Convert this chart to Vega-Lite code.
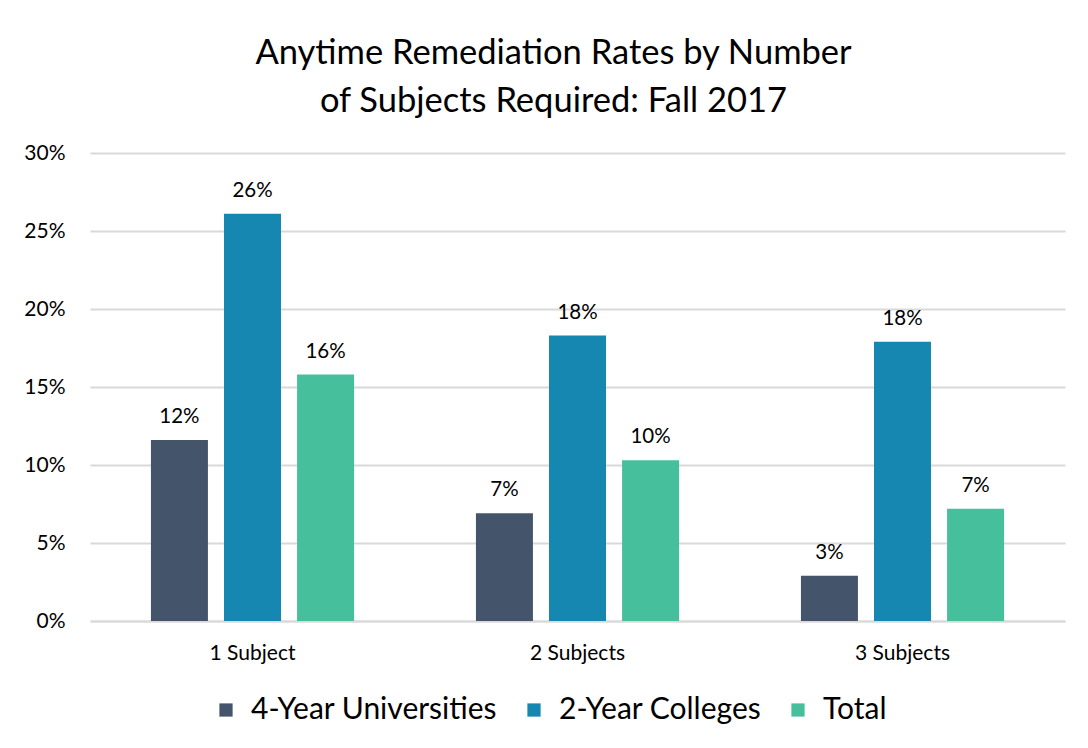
{
  "$schema": "https://vega.github.io/schema/vega-lite/v6.json",
  "width": 975,
  "height": 468,
  "autosize": {"type": "none"},
  "padding": {"left": 90, "top": 153, "right": 23, "bottom": 127},
  "background": "white",
  "title": {
    "text": ["Anytime Remediation Rates by Number", "of Subjects Required: Fall 2017"],
    "fontSize": 34.5,
    "font": "Lato",
    "fontWeight": "normal",
    "color": "#000000",
    "lineHeight": 48,
    "anchor": "middle",
    "dx": -24,
    "offset": 23
  },
  "data": {
    "values": [
      {"subjects": "1 Subject", "type": "4-Year Universities", "rate": 0.116},
      {"subjects": "1 Subject", "type": "2-Year Colleges", "rate": 0.261},
      {"subjects": "1 Subject", "type": "Total", "rate": 0.158},
      {"subjects": "2 Subjects", "type": "4-Year Universities", "rate": 0.069},
      {"subjects": "2 Subjects", "type": "2-Year Colleges", "rate": 0.183},
      {"subjects": "2 Subjects", "type": "Total", "rate": 0.103},
      {"subjects": "3 Subjects", "type": "4-Year Universities", "rate": 0.029},
      {"subjects": "3 Subjects", "type": "2-Year Colleges", "rate": 0.179},
      {"subjects": "3 Subjects", "type": "Total", "rate": 0.072}
    ]
  },
  "encoding": {
    "x": {
      "field": "subjects",
      "type": "nominal",
      "sort": null,
      "scale": {"paddingInner": 0.375, "paddingOuter": 0.1875},
      "axis": {
        "title": null,
        "labelAngle": 0,
        "labelFontSize": 21,
        "labelFont": "Lato",
        "labelColor": "#000000",
        "labelPadding": 21,
        "ticks": false,
        "domainColor": "#d9d9d9",
        "domainWidth": 2
      }
    },
    "xOffset": {
      "field": "type",
      "type": "nominal",
      "sort": ["4-Year Universities", "2-Year Colleges", "Total"],
      "scale": {"paddingInner": 0.22, "paddingOuter": 0}
    },
    "y": {
      "field": "rate",
      "type": "quantitative",
      "scale": {"domain": [0, 0.3]},
      "axis": {
        "title": null,
        "format": ".0%",
        "values": [0, 0.05, 0.1, 0.15, 0.2, 0.25, 0.3],
        "labelFontSize": 21,
        "labelFont": "Lato",
        "labelColor": "#000000",
        "labelPadding": 25,
        "ticks": false,
        "domain": false,
        "gridColor": "#d9d9d9",
        "gridWidth": 2
      }
    }
  },
  "layer": [
    {
      "mark": {"type": "bar"},
      "encoding": {
        "color": {
          "field": "type",
          "type": "nominal",
          "sort": ["4-Year Universities", "2-Year Colleges", "Total"],
          "scale": {
            "domain": ["4-Year Universities", "2-Year Colleges", "Total"],
            "range": ["#44546A", "#1687B1", "#46C09C"]
          },
          "legend": {
            "title": null,
            "orient": "none",
            "legendX": 121,
            "legendY": 542,
            "direction": "horizontal",
            "symbolType": "square",
            "symbolSize": 175,
            "symbolStrokeWidth": 0,
            "labelFontSize": 30,
            "labelFont": "Lato",
            "labelColor": "#000000",
            "labelOffset": 10,
            "columnPadding": 21,
            "labelLimit": 400
          }
        }
      }
    },
    {
      "mark": {"type": "text", "baseline": "alphabetic", "dy": -17, "fontSize": 20.5, "font": "Lato", "color": "#000000"},
      "encoding": {
        "text": {"field": "rate", "type": "quantitative", "format": ".0%"}
      }
    }
  ],
  "config": {"view": {"stroke": null}}
}
